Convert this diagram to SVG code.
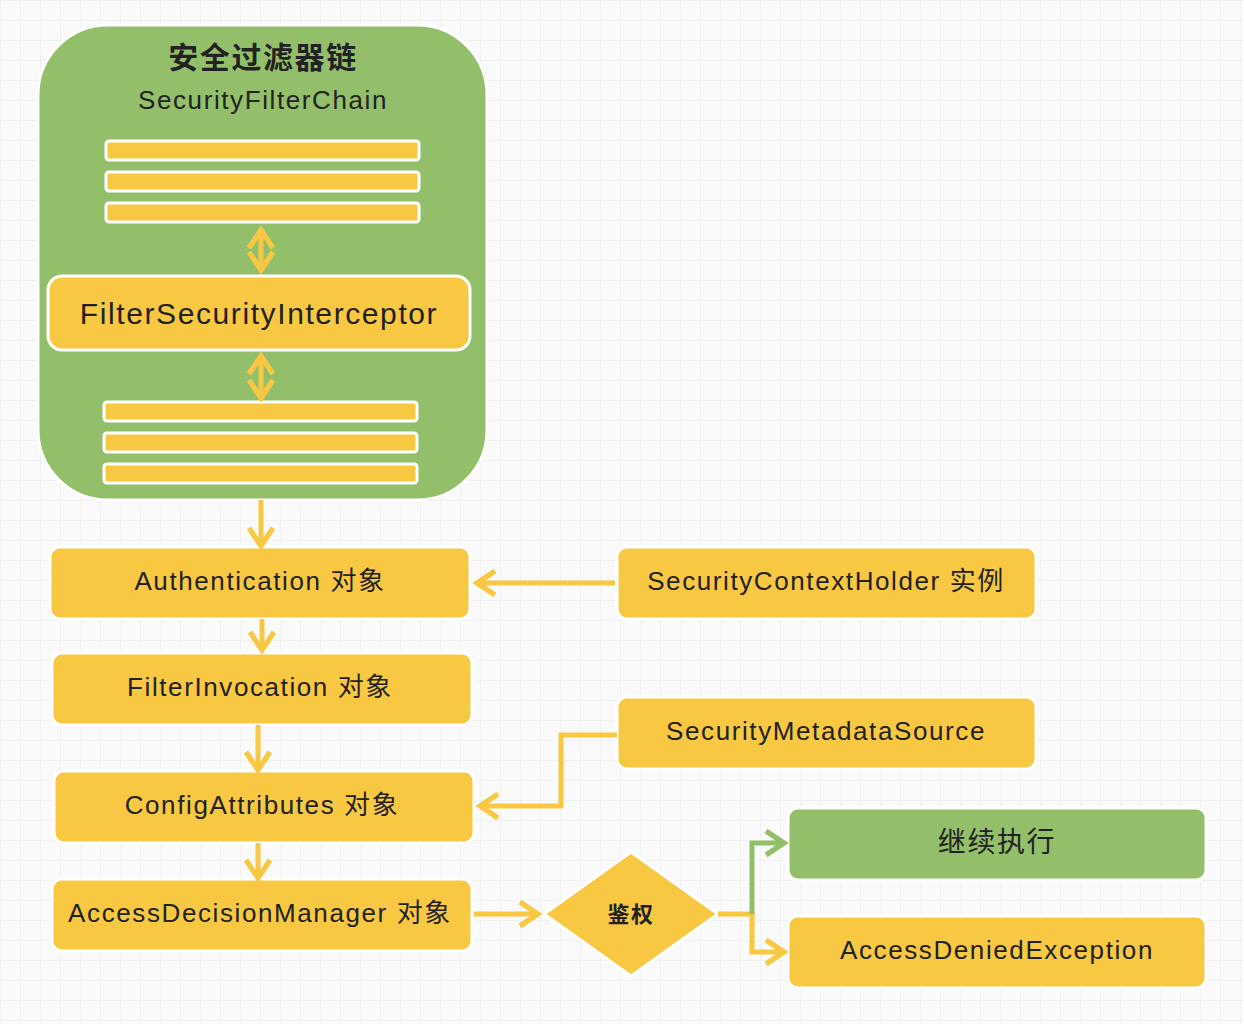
<svg xmlns="http://www.w3.org/2000/svg" width="1244" height="1024" viewBox="0 0 1244 1024">
<defs>
<pattern id="g" width="20" height="20" patternUnits="userSpaceOnUse"><path d="M20 0H0V20" fill="none" stroke="#e8e8e8" stroke-width="1"/></pattern>
<marker id="ay" viewBox="0 0 20 20" refX="15" refY="10" markerWidth="6" markerHeight="6" markerUnits="strokeWidth" orient="auto-start-reverse"><path d="M3 2L15 10L3 18" fill="none" stroke="#f9c842" stroke-width="3.5"/></marker>
<marker id="ag" viewBox="0 0 20 20" refX="15" refY="10" markerWidth="6" markerHeight="6" markerUnits="strokeWidth" orient="auto"><path d="M3 2L15 10L3 18" fill="none" stroke="#93bf6a" stroke-width="3.5"/></marker>
</defs>
<style>
.y{fill:#f9c842;stroke:#fff;stroke-width:3}
.gr{fill:#93bf6a;stroke:#fff;stroke-width:3}
.t{font-family:"Liberation Sans","Noto Sans CJK SC",sans-serif;fill:#222;text-anchor:middle;dominant-baseline:central;letter-spacing:1.6px}
.c{fill:none;stroke:#f9c842;stroke-width:5}
</style>
<rect width="1244" height="1024" fill="#fafafa"/>
<rect width="1244" height="1024" fill="url(#g)"/>
<g id="chain">
<rect class="gr" x="38" y="25" width="449" height="475" rx="70"/>
<text class="t" x="263" y="57" font-size="30" font-weight="bold" letter-spacing="4">安全过滤器链</text>
<text class="t" x="263" y="100" font-size="26">SecurityFilterChain</text>
<rect class="y" x="106" y="141" width="313" height="19" rx="3"/>
<rect class="y" x="106" y="172" width="313" height="19" rx="3"/>
<rect class="y" x="106" y="203" width="313" height="19" rx="3"/>
<rect class="y" x="104" y="402" width="313" height="19" rx="3"/>
<rect class="y" x="104" y="433" width="313" height="19" rx="3"/>
<rect class="y" x="104" y="464" width="313" height="19" rx="3"/>
</g>
<g id="fsi"><rect class="y" x="48" y="276" width="422" height="74" rx="14"/><text class="t" x="259" y="313" font-size="30">FilterSecurityInterceptor</text></g>
<g id="auth"><rect class="y" x="50" y="547" width="420" height="72" rx="10"/><text class="t" x="260" y="581" font-size="26">Authentication 对象</text></g>
<g id="sch"><rect class="y" x="617" y="547" width="419" height="72" rx="10"/><text class="t" x="826" y="581" font-size="26">SecurityContextHolder 实例</text></g>
<g id="fi"><rect class="y" x="52" y="653" width="420" height="72" rx="10"/><text class="t" x="260" y="687" font-size="26">FilterInvocation 对象</text></g>
<g id="sms"><rect class="y" x="617" y="697" width="419" height="72" rx="10"/><text class="t" x="826" y="731" font-size="26">SecurityMetadataSource</text></g>
<g id="ca"><rect class="y" x="54" y="771" width="420" height="72" rx="10"/><text class="t" x="262" y="805" font-size="26">ConfigAttributes 对象</text></g>
<g id="adm"><rect class="y" x="52" y="879" width="420" height="72" rx="10"/><text class="t" x="260" y="913" font-size="26">AccessDecisionManager 对象</text></g>
<g id="auth2"><path class="y" d="M631 852L718 914L631 976L544 914Z"/><text class="t" x="631" y="914" font-size="22" font-weight="bold">鉴权</text></g>
<g id="cont"><rect class="gr" x="788" y="808" width="418" height="72" rx="10"/><text class="t" x="997" y="842" font-size="28" letter-spacing="4">继续执行</text></g>
<g id="ade"><rect class="y" x="788" y="916" width="418" height="72" rx="10"/><text class="t" x="997" y="950" font-size="26">AccessDeniedException</text></g>
<g id="connectors">
<path class="c" stroke-width="3" d="M261 230V270" marker-start="url(#ay)" marker-end="url(#ay)"/>
<path class="c" stroke-width="3" d="M261 356V398" marker-start="url(#ay)" marker-end="url(#ay)"/>
<path class="c" d="M261 500V546" marker-end="url(#ay)"/>
<path class="c" d="M615 583H477" marker-end="url(#ay)"/>
<path class="c" d="M262 619V650" marker-end="url(#ay)"/>
<path class="c" d="M258 725V770" marker-end="url(#ay)"/>
<path class="c" d="M617 735H561V806H480" marker-end="url(#ay)"/>
<path class="c" d="M258 843V878" marker-end="url(#ay)"/>
<path class="c" d="M474 914H538" marker-end="url(#ay)"/>
<path class="c" d="M718 914H752V952H784" marker-end="url(#ay)"/>
<path fill="none" stroke="#93bf6a" stroke-width="5" d="M752 914V843H784" marker-end="url(#ag)"/>
</g>
</svg>
